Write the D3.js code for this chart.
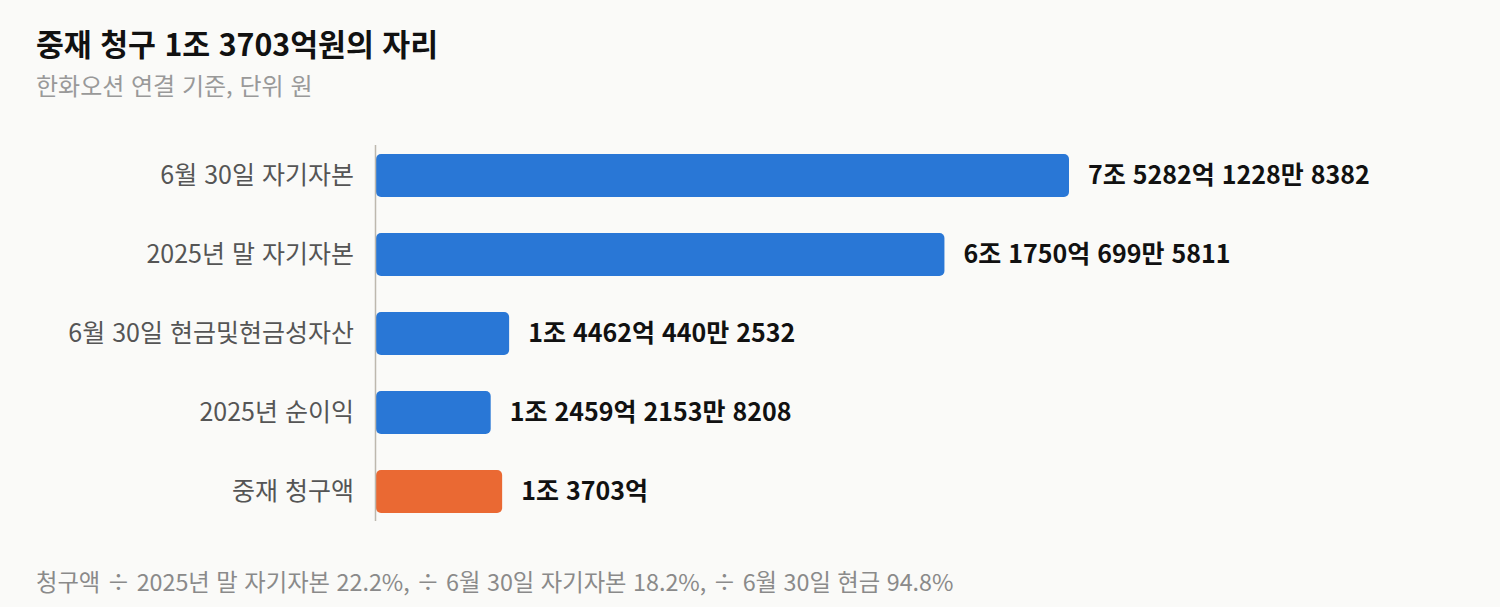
<!DOCTYPE html>
<html lang="ko">
<head>
<meta charset="utf-8">
<script src="https://cdn.jsdelivr.net/npm/d3@7"></script>
<style>
  html, body { margin: 0; padding: 0; background: #fafaf8; }
  svg { display: block; font-family: "Noto Sans CJK KR", "Noto Sans", sans-serif; }
</style>
</head>
<body>
<svg id="chart" width="1500" height="607"></svg>
<script>
const titleText = "중재 청구 1조 3703억원의 자리";
const subtitleText = "한화오션 연결 기준, 단위 원";
const footnoteText = "청구액 ÷ 2025년 말 자기자본 22.2%, ÷ 6월 30일 자기자본 18.2%, ÷ 6월 30일 현금 94.8%";

const categories = [
  "6월 30일 자기자본",
  "2025년 말 자기자본",
  "6월 30일 현금및현금성자산",
  "2025년 순이익",
  "중재 청구액"
];
// values in won
const values = [
  7528212288382,
  6175006995811,
  1446204402532,
  1245921538208,
  1370300000000
];
const highlight = [false, false, false, false, true];

function formatWon(v) {
  const jo = Math.floor(v / 1e12);
  const eok = Math.floor((v % 1e12) / 1e8);
  const man = Math.floor((v % 1e8) / 1e4);
  const rest = v % 1e4;
  const parts = [];
  if (jo) parts.push(jo + "조");
  if (eok) parts.push(eok + "억");
  if (man) parts.push(man + "만");
  if (rest) parts.push(String(rest));
  return parts.join(" ");
}

const svg = d3.select("#chart");
const W = 1500, H = 607;
svg.append("rect").attr("width", W).attr("height", H).attr("fill", "#fafaf8");

const x = d3.scaleLinear().domain([0, d3.max(values)]).range([376, 1069]);
const y = d3.scaleBand().domain(categories).range([136, 531]).paddingInner(0.456).paddingOuter(0.228);

// Title
svg.append("text").attr("x", 36).attr("y", 56)
  .attr("font-size", 30.3).attr("font-weight", 700).attr("fill", "#111")
  .text(titleText);
svg.append("text").attr("x", 36).attr("y", 95)
  .attr("font-size", 24).attr("fill", "#999")
  .text(subtitleText);

const data = categories.map((c, i) => ({ c, v: values[i], h: highlight[i] }));

// bars
svg.append("g").selectAll("rect").data(data).join("rect")
  .attr("x", x(0))
  .attr("y", d => y(d.c))
  .attr("width", d => x(d.v) - x(0))
  .attr("height", y.bandwidth())
  .attr("rx", 5).attr("ry", 5)
  .attr("fill", d => d.h ? "#ea6933" : "#2977d6");

// axis line
svg.append("line")
  .attr("x1", x(0) - 0.5).attr("x2", x(0) - 0.5)
  .attr("y1", y(categories[0]) - 9)
  .attr("y2", y(categories[categories.length - 1]) + y.bandwidth() + 8)
  .attr("stroke", "#bdb8ae").attr("stroke-width", 1.5);

// category labels
svg.append("g").selectAll("text").data(data).join("text")
  .attr("x", x(0) - 22)
  .attr("y", d => y(d.c) + y.bandwidth() / 2)
  .attr("dy", "0.35em")
  .attr("text-anchor", "end")
  .attr("font-size", 25).attr("fill", "#555")
  .text(d => d.c);

// value labels
svg.append("g").selectAll("text").data(data).join("text")
  .attr("x", d => x(d.v) + 19)
  .attr("y", d => y(d.c) + y.bandwidth() / 2)
  .attr("dy", "0.35em")
  .attr("font-size", 25).attr("font-weight", 700).attr("fill", "#111")
  .text(d => formatWon(d.v));

// footnote
svg.append("text").attr("x", 36).attr("y", 591)
  .attr("font-size", 23.3).attr("fill", "#8a8a8a")
  .text(footnoteText);
</script>
</body>
</html>
